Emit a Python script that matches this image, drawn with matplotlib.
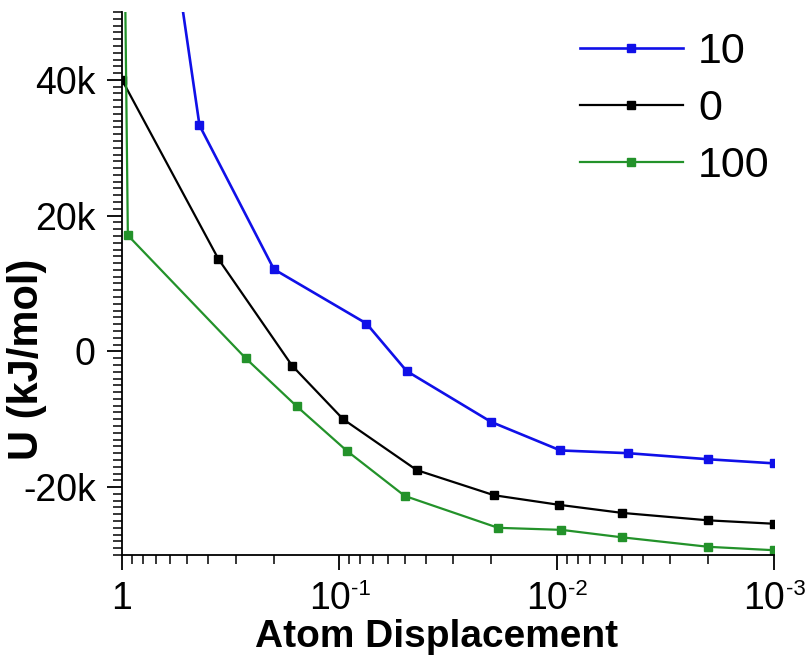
import numpy as np
import matplotlib
matplotlib.use("Agg")
import matplotlib.pyplot as plt
from matplotlib.ticker import FuncFormatter, MultipleLocator, LogLocator, NullFormatter

plt.rcParams['font.family'] = ['Liberation Sans', 'DejaVu Sans']

# ---- data ----
blue_x = [1, 0.44, 0.20, 0.075, 0.049, 0.020, 0.0096, 0.0047, 0.002, 0.001]
blue_y = [112000, 33300, 12100, 4100, -2900, -10400, -14600, -15000, -15900, -16500]

black_x = [1, 0.36, 0.165, 0.096, 0.044, 0.0194, 0.0098, 0.005, 0.002, 0.001]
black_y = [40000, 13600, -2100, -10000, -17500, -21200, -22600, -23800, -24900, -25400]

green_x = [1, 0.94, 0.27, 0.157, 0.092, 0.050, 0.0186, 0.0095, 0.005, 0.002, 0.001]
green_y = [95000, 17100, -1000, -8100, -14700, -21300, -26000, -26300, -27400, -28800, -29300]

series_labels = ['10', '0', '100']
x_ticks = [1, 0.1, 0.01, 0.001]
x_tick_labels = ['1', '', '', '']
decade_ticks = [0.1, 0.01, 0.001]
decade_exps = ['-1', '-2', '-3']
y_ticks = [-20000, 0, 20000, 40000]

fig = plt.figure(figsize=(8.07, 6.57), dpi=100)
ax = fig.add_axes([0.1512, 0.1553, 0.8078, 0.8264])

ax.plot(blue_x, blue_y, '-s', color='#1010e8', lw=1.9, ms=5.5, label=series_labels[0])
ax.plot(black_x, black_y, '-s', color='black', lw=1.6, ms=5.5, label=series_labels[1])
ax.plot(green_x, green_y, '-s', color='#23922a', lw=1.6, ms=5.5, label=series_labels[2])

ax.set_xscale('log')
ax.set_xlim(1, 0.001)
ax.set_ylim(-30000, 50000)

ax.set_xticks(x_ticks)
ax.set_xticklabels(x_tick_labels)
ax.xaxis.set_minor_locator(LogLocator(base=10, subs=np.arange(2, 10)))
ax.xaxis.set_minor_formatter(NullFormatter())

# "10" with a small raised exponent under each decade tick
for t, e in zip(decade_ticks, decade_exps):
    ax.annotate('10', xy=(t, 0), xycoords=('data', 'axes fraction'),
                xytext=(-7, -19), textcoords='offset points',
                ha='center', va='top', fontsize=27, annotation_clip=False)
    ax.annotate(e, xy=(t, 0), xycoords=('data', 'axes fraction'),
                xytext=(8.5, -17), textcoords='offset points',
                ha='left', va='top', fontsize=16, annotation_clip=False)

ax.set_yticks(y_ticks)
ax.yaxis.set_major_formatter(FuncFormatter(lambda v, p: '0' if v == 0 else '%dk' % int(v / 1000)))
ax.yaxis.set_minor_locator(MultipleLocator(1000))

for s in ('top', 'right'):
    ax.spines[s].set_visible(False)
for s in ('left', 'bottom'):
    ax.spines[s].set_linewidth(1.3)

ax.tick_params(which='major', length=11, width=1.3, labelsize=27, pad=8)
ax.tick_params(which='minor', length=6.5, width=1.1)

ax.set_xlabel('Atom Displacement', fontsize=28, fontweight='bold')
ax.xaxis.set_label_coords(0.483, -0.118)
ax.set_ylabel('U (kJ/mol)', fontsize=30, fontweight='bold', va='center')
ax.yaxis.set_label_coords(-0.146, 0.36)

ax.legend(loc='upper right', bbox_to_anchor=(0.975, 0.978), bbox_transform=fig.transFigure,
          frameon=False, fontsize=31, handlelength=2.4, handletextpad=0.35,
          labelspacing=0.4, borderaxespad=0)

fig.savefig('out.png', dpi=100)
